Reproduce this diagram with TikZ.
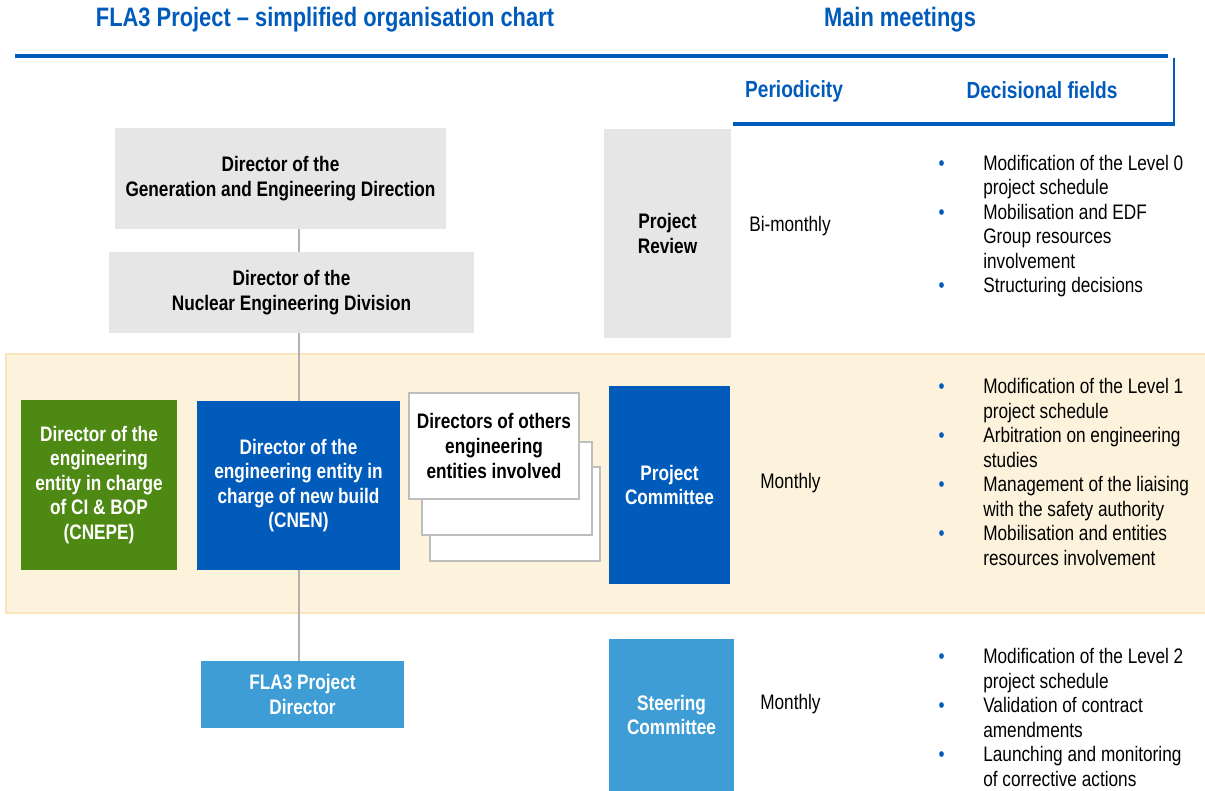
\documentclass[tikz,border=0pt]{standalone}
\usepackage{fontspec}
\setmainfont{Liberation Sans}[FakeStretch=0.82]
\definecolor{edfblue}{RGB}{0,91,187}
\definecolor{lightblue}{RGB}{63,157,214}
\definecolor{edfgreen}{RGB}{78,137,20}
\definecolor{boxgray}{RGB}{230,230,230}
\definecolor{bandfill}{RGB}{253,243,221}
\definecolor{bandline}{RGB}{250,228,185}
\definecolor{linkgray}{RGB}{178,178,178}
\definecolor{stackline}{RGB}{190,190,190}
\newcommand{\bul}{\llap{\textcolor{edfblue}{\textbullet}\hspace{29pt}}}

\begin{document}
\begin{tikzpicture}[x=0.75pt,y=-0.75pt,
  every node/.style={inner sep=0pt, font=\fontsize{15.75}{18.4}\selectfont},
  box/.style={rectangle, align=center, font=\fontsize{15.75}{18.4}\selectfont\bfseries},
  graybox/.style={box, fill=boxgray, text=black},
  bluebox/.style={box, fill=edfblue, text=white},
  lightbox/.style={box, fill=lightblue, text=white},
  greenbox/.style={box, fill=edfgreen, text=white},
  stackbox/.style={box, fill=white, draw=stackline, line width=1.3pt, minimum width=127.5pt},
  heading/.style={text=edfblue, font=\fontsize{20}{24}\selectfont\bfseries},
  colhead/.style={text=edfblue, font=\fontsize{17.5}{21}\selectfont\bfseries},
  period/.style={anchor=west, text=black},
  fields/.style={anchor=west, align=left, text=black},
  link/.style={draw=linkgray, line width=1.5pt},
  rule/.style={draw=edfblue, line width=3pt}]
  \useasboundingbox (0,0) rectangle (1205,791);

  % headings
  \node[heading] (titleL) at (325,20) {FLA3 Project -- simplified organisation chart};
  \node[heading] (titleR) at (900,20) {Main meetings};
  \node[colhead] (hPeriod) at (794,91) {Periodicity};
  \node[colhead] (hFields) at (1042,90) {Decisional fields};
  \draw[rule] (15,56) -- (1168,56);
  \draw[edfblue, line width=1pt] (1174,58) -- (1174,126);
  \draw[rule] (733,124) -- (1175,124);

  % band of the project committee
  \fill[bandfill, draw=bandline, line width=1.5pt] (6,354) rectangle (1206,613);

  % organisation chart
  \node[graybox, minimum width=248.25pt, minimum height=75.75pt] (genDir) at (280.5,178.5)
    {Director of the\\Generation and Engineering Direction};
  \node[graybox, minimum width=273.75pt, minimum height=60.75pt] (nucDiv) at (291.5,292.5)
    {Director of the\\Nuclear Engineering Division};
  \node[greenbox, minimum width=117pt, minimum height=127.5pt] (cnepe) at (99,485)
    {Director of the\\engineering\\entity in charge\\of CI \& BOP\\(CNEPE)};
  \node[bluebox, minimum width=152.25pt, minimum height=126.75pt] (cnen) at (298.5,485.5)
    {Director of the\\engineering entity in\\charge of new build\\(CNEN)};
  \node[stackbox, minimum height=70.5pt] (others3) at (515,514) {};
  \node[stackbox, minimum height=69.75pt] (others2) at (507,488.5) {};
  \node[stackbox, minimum height=79.5pt, text=black] (others) at (494,446)
    {Directors of others\\engineering\\entities involved};
  \node[lightbox, minimum width=152.25pt, minimum height=50.25pt] (fla3Dir) at (302.5,694.5)
    {FLA3 Project\\Director};

  \draw[link] (genDir.south -| cnen.north) -- (nucDiv.north -| cnen.north);
  \draw[link] (nucDiv.south -| cnen.north) -- (cnen.north);
  \draw[link] (cnen.south) -- (cnen.south |- fla3Dir.north);

  % meetings
  \node[graybox, minimum width=95.25pt, minimum height=156.75pt] (review) at (667.5,233.5)
    {Project\\Review};
  \node[bluebox, minimum width=90.75pt, minimum height=148.5pt] (committee) at (669.5,485)
    {Project\\Committee};
  \node[lightbox, minimum width=93.75pt, minimum height=114pt] (steering) at (671.5,715)
    {Steering\\Committee};

  \node[period] (pReview) at (749,226) {Bi-monthly};
  \node[period] (pCommittee) at (760,483) {Monthly};
  \node[period] (pSteering) at (760,704) {Monthly};

  \node[fields] (fReview) at (983,226)
    {\bul Modification of the Level 0\\project schedule\\
     \bul Mobilisation and EDF\\Group resources\\involvement\\
     \bul Structuring decisions};
  \node[fields] (fCommittee) at (983,472)
    {\bul Modification of the Level 1\\project schedule\\
     \bul Arbitration on engineering\\studies\\
     \bul Management of the liaising\\with the safety authority\\
     \bul Mobilisation and entities\\resources involvement};
  \node[fields] (fSteering) at (983,717.5)
    {\bul Modification of the Level 2\\project schedule\\
     \bul Validation of contract\\amendments\\
     \bul Launching and monitoring\\of corrective actions};
\end{tikzpicture}
\end{document}
